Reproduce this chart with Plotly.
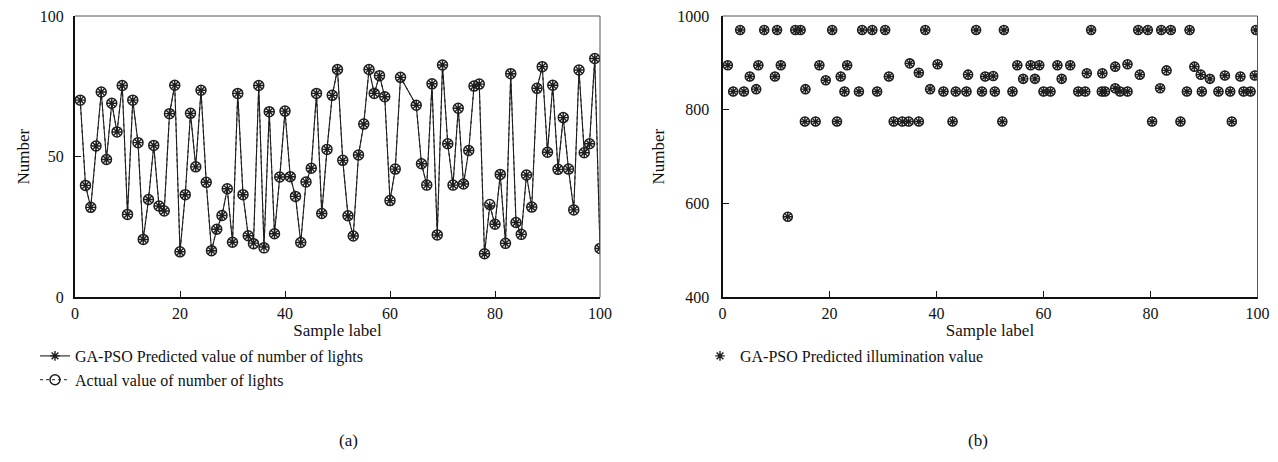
import plotly.graph_objects as go

# ---- (a) number of lights -------------------------------------------------
sample_a = [i for i in range(1, 101) if i not in (63, 64)]
predicted_lights = [
    70.1, 39.8, 32.0, 53.8, 73.0, 49.0, 69.0, 58.8, 75.3, 29.5,
    70.1, 55.0, 20.6, 34.8, 54.0, 32.5, 30.7, 65.3, 75.4, 16.2,
    36.5, 65.4, 46.4, 73.6, 40.9, 16.6, 24.2, 29.1, 38.6, 19.6,
    72.5, 36.5, 21.9, 19.3, 75.3, 17.9, 66.0, 22.6, 42.8, 66.2,
    42.9, 35.9, 19.5, 41.0, 45.9, 72.5, 29.8, 52.6, 71.8, 81.0,
    48.7, 29.0, 21.8, 50.6, 61.6, 81.0, 72.5, 78.8, 71.3, 34.4,
    45.6, 78.2, 68.3, 47.5, 39.9, 75.9, 22.2, 82.6, 54.6, 39.9,
    67.2, 40.3, 52.2, 75.1, 75.8, 15.5, 32.5, 26.0, 43.7, 19.2,
    79.5, 26.6, 22.4, 43.5, 32.1, 74.3, 82.0, 51.6, 75.4, 45.5,
    63.9, 45.6, 31.1, 80.8, 51.4, 54.6, 84.9, 17.4,
]
actual_lights = [
    70.1, 39.8, 32.0, 53.8, 73.0, 49.0, 69.0, 58.8, 75.3, 29.5,
    70.1, 55.0, 20.6, 34.8, 54.0, 32.5, 30.7, 65.3, 75.4, 16.2,
    36.5, 65.4, 46.4, 73.6, 40.9, 16.6, 24.2, 29.1, 38.6, 19.6,
    72.5, 36.5, 21.9, 19.1, 75.3, 17.6, 66.0, 22.6, 42.8, 66.2,
    42.9, 35.9, 19.5, 41.0, 45.9, 72.5, 29.8, 52.6, 71.8, 81.0,
    48.7, 29.0, 21.8, 50.6, 61.6, 81.0, 72.5, 78.8, 71.3, 34.4,
    45.6, 78.2, 68.3, 47.5, 39.9, 75.9, 22.2, 82.6, 54.6, 39.9,
    67.2, 40.3, 52.2, 75.1, 75.8, 15.5, 33.0, 26.0, 43.7, 19.2,
    79.5, 26.6, 22.4, 43.5, 32.1, 74.3, 82.0, 51.6, 75.4, 45.5,
    63.9, 45.6, 31.1, 80.8, 51.4, 54.6, 84.9, 17.4,
]

# ---- (b) illumination -----------------------------------------------------
sample_b = [
    1.0, 2.0, 3.3, 4.0, 5.1, 6.3, 6.7, 7.8, 9.8, 10.2,
    10.9, 12.2, 13.6, 14.6, 15.4, 15.5, 17.4, 18.1, 19.3, 20.5,
    21.4, 22.1, 22.8, 23.3, 25.5, 26.1, 28.0, 28.9, 30.4, 31.1,
    32.0, 33.6, 34.8, 35.0, 36.7, 36.7, 37.9, 38.8, 40.2, 41.3,
    43.0, 43.6, 45.6, 45.9, 47.4, 48.5, 49.1, 50.6, 50.9, 52.3,
    52.6, 54.2, 55.1, 56.2, 57.6, 58.4, 59.2, 60.0, 61.3, 62.6,
    63.4, 65.0, 66.5, 67.8, 68.1, 68.9, 70.9, 71.0, 71.5, 73.4,
    73.4, 74.3, 75.7, 75.7, 77.7, 78.0, 79.5, 80.3, 81.8, 82.0,
    83.0, 83.8, 85.6, 86.8, 87.3, 88.2, 89.4, 89.6, 91.1, 92.7,
    93.9, 94.9, 95.2, 96.8, 97.4, 98.7, 99.5, 99.7,
]
illumination = [
    895, 839, 970, 839, 871, 844, 895, 970, 871, 970,
    895, 572, 970, 970, 775, 844, 775, 895, 863, 970,
    775, 871, 839, 895, 839, 970, 970, 839, 970, 871,
    775, 775, 775, 899, 775, 879, 970, 844, 897, 839,
    775, 839, 839, 875, 970, 839, 871, 872, 839, 775,
    970, 839, 895, 866, 895, 866, 895, 839, 839, 895,
    866, 895, 839, 839, 878, 970, 839, 878, 839, 892,
    846, 839, 897, 839, 970, 875, 970, 775, 846, 970,
    884, 970, 775, 839, 970, 892, 875, 839, 866, 839,
    873, 839, 775, 871, 839, 839, 873, 970,
]

x_ticks = [0, 20, 40, 60, 80, 100]
y_ticks_a = [0, 50, 100]
y_ticks_b = [400, 600, 800, 1000]

INK = "#1e1e1e"
FONT = "Liberation Serif"

fig = go.Figure()

fig.add_trace(go.Scatter(
    x=sample_a, y=predicted_lights, mode="lines+markers",
    name="GA-PSO Predicted value of number of lights",
    line=dict(color=INK, width=1.1),
    marker=dict(symbol="asterisk-open", size=8, color=INK,
                line=dict(color=INK, width=1.4)),
    xaxis="x", yaxis="y", legend="legend",
))
fig.add_trace(go.Scatter(
    x=sample_a, y=actual_lights, mode="lines+markers",
    name="Actual value of number of lights",
    line=dict(color=INK, width=1, dash="dot"),
    marker=dict(symbol="circle-open", size=10, color=INK,
                line=dict(color=INK, width=1.5)),
    xaxis="x", yaxis="y", legend="legend",
))

fig.add_trace(go.Scatter(
    x=sample_b, y=illumination, mode="markers",
    name="Actual illumination value", showlegend=False,
    marker=dict(symbol="circle-open", size=9, color=INK,
                line=dict(color=INK, width=1.6)),
    xaxis="x2", yaxis="y2",
))
fig.add_trace(go.Scatter(
    x=sample_b, y=illumination, mode="markers",
    name="GA-PSO Predicted illumination value",
    marker=dict(symbol="asterisk-open", size=8, color=INK,
                line=dict(color=INK, width=1.4)),
    xaxis="x2", yaxis="y2", legend="legend2",
))

W, H = 1278, 462
ax_common = dict(
    showline=True, linecolor="#111111", linewidth=2, mirror=False,
    ticks="inside", ticklen=6, tickwidth=1, tickcolor="#111111",
    showgrid=False, zeroline=False,
    tickfont=dict(family=FONT, size=16, color="#111111"),
    automargin=False,
)
ydom = [1 - 297.4 / H, 1 - 16 / H]

fig.update_layout(
    width=W, height=H,
    margin=dict(l=0, r=0, t=0, b=0),
    paper_bgcolor="white", plot_bgcolor="white",
    font=dict(family=FONT, color="#111111"),
    xaxis=dict(domain=[75 / W, 600 / W], range=[0, 100], tickvals=x_ticks,
               anchor="y", title=dict(text="Sample label", standoff=4,
                                      font=dict(family=FONT, size=17)),
               **ax_common),
    yaxis=dict(domain=ydom, range=[0, 100], tickvals=y_ticks_a,
               anchor="x", ticklabelstandoff=6,
               title=dict(text="Number", standoff=6,
                          font=dict(family=FONT, size=17)),
               **ax_common),
    xaxis2=dict(domain=[722.5 / W, 1257.5 / W], range=[0, 100], tickvals=x_ticks,
                anchor="y2", title=dict(text="Sample label", standoff=4,
                                        font=dict(family=FONT, size=17)),
                **ax_common),
    yaxis2=dict(domain=ydom, range=[400, 1000], tickvals=y_ticks_b,
                anchor="x2", ticklabelstandoff=8,
                title=dict(text="Number", standoff=8,
                           font=dict(family=FONT, size=17)),
                **ax_common),
    legend=dict(x=35 / W, y=1 - 339 / H, xanchor="left", yanchor="top",
                bgcolor="rgba(0,0,0,0)", tracegroupgap=0, itemwidth=30,
                font=dict(family=FONT, size=16, color="#111111")),
    legend2=dict(x=700 / W, y=1 - 339 / H, xanchor="left", yanchor="top",
                 bgcolor="rgba(0,0,0,0)", itemwidth=30,
                 font=dict(family=FONT, size=16, color="#111111")),
    showlegend=True,
)

# thin top and right frame lines of each panel
for xr, yr in (("x domain", "y domain"), ("x2 domain", "y2 domain")):
    fig.add_shape(type="line", xref=xr, yref=yr, x0=0, x1=1, y0=1, y1=1,
                  line=dict(color="#555555", width=1))
    fig.add_shape(type="line", xref=xr, yref=yr, x0=1, x1=1, y0=0, y1=1,
                  line=dict(color="#555555", width=1))

# panel captions
for cx, label in ((337 / W, "(a)"), (990 / W, "(b)")):
    fig.add_annotation(x=cx, y=1 - 440 / H, xref="paper", yref="paper",
                       yanchor="middle", text=label, showarrow=False,
                       font=dict(family=FONT, size=17, color="#111111"))

fig.write_html("out.html")
